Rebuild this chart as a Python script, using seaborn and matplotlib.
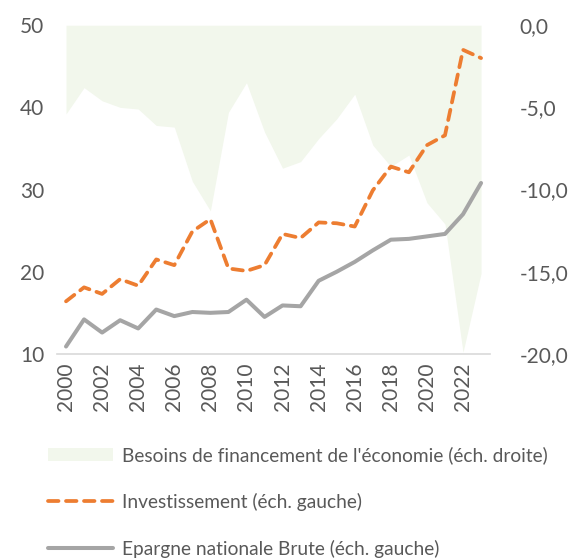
import matplotlib
matplotlib.use('Agg')
import matplotlib.pyplot as plt
import seaborn as sns
import pandas as pd

years = list(range(2000, 2024))

# besoins de financement (right axis)
besoins = [-5.4, -3.8, -4.6, -5.0, -5.1, -6.1, -6.2, -9.5, -11.3, -5.3, -3.5, -6.5,
           -8.7, -8.3, -6.9, -5.7, -4.2, -7.3, -8.6, -7.9, -10.8, -12.1, -19.9, -15.1]

# investissement (left axis)
investissement = [16.4, 18.1, 17.3, 19.1, 18.3, 21.5, 20.8, 24.9, 26.4, 20.4, 20.1, 20.8,
                  24.6, 24.1, 26.0, 25.9, 25.5, 29.9, 32.8, 32.1, 35.4, 36.6, 47.0, 46.0]

# epargne nationale brute (left axis)
epargne = [10.9, 14.2, 12.6, 14.1, 13.1, 15.4, 14.6, 15.1, 15.0, 15.1, 16.6, 14.5,
           15.9, 15.8, 18.9, 20.0, 21.2, 22.6, 23.9, 24.0, 24.3, 24.6, 27.0, 30.8]

left_ticks = [10, 20, 30, 40, 50]
right_ticks = [0, -5, -10, -15, -20]

lbl_besoins = "Besoins de financement de l'économie (éch. droite)"
lbl_invest = "Investissement (éch. gauche)"
lbl_epargne = "Epargne nationale Brute (éch. gauche)"

df = pd.DataFrame({'annee': years, 'besoins': besoins,
                   'investissement': investissement, 'epargne': epargne})

sns.set_style('white')
plt.rcParams['font.family'] = ['Lato', 'DejaVu Sans']
txt = '#595959'

fig = plt.figure(figsize=(5.71, 5.60), dpi=100)
ax = fig.add_axes([0.0998, 0.368, 0.7585, 0.587])
ax2 = ax.twinx()

# area on the right axis, drawn behind the lines
ax2.fill_between(df['annee'], 0, df['besoins'], color='#F2F7EC', lw=0, label=lbl_besoins)
ax2.set_ylim(-20, 0)
ax2.set_yticks(right_ticks)
ax2.set_yticklabels([f'{v:.1f}'.replace('.', ',') for v in right_ticks])
ax.set_zorder(ax2.get_zorder() + 1)
ax.patch.set_visible(False)

sns.lineplot(data=df, x='annee', y='investissement', ax=ax, color='#ED7D31', lw=2.7,
             label=lbl_invest)
ax.lines[-1].set_dashes((2.8, 2.0))
ax.lines[-1].set_dash_capstyle('round')
sns.lineplot(data=df, x='annee', y='epargne', ax=ax, color='#A5A5A5', lw=2.9,
             label=lbl_epargne)

ax.set_ylim(10, 50)
ax.set_yticks(left_ticks)
ax.set_xlim(1999.5, 2023.5)
ax.set_xticks(years[::2])
ax.set_xticklabels([str(y) for y in years[::2]], rotation=90)
ax.set_xlabel('')
ax.set_ylabel('')

for a in (ax, ax2):
    for s in a.spines.values():
        s.set_visible(False)
    a.tick_params(length=0, labelsize=15, colors=txt)
ax.spines['bottom'].set_visible(True)
ax.spines['bottom'].set_color('#D9D9D9')
ax.spines['bottom'].set_linewidth(1.2)
ax.tick_params(axis='y', pad=9)
ax.tick_params(axis='x', pad=6)
ax2.tick_params(axis='y', pad=21)

h1, l1 = ax2.get_legend_handles_labels()
h2, l2 = ax.get_legend_handles_labels()
ax.get_legend().remove()
fig.legend(h1 + h2, l1 + l2, loc='upper left', bbox_to_anchor=(0.084, 0.203),
           frameon=False, fontsize=13.8, labelcolor=txt, handlelength=3.4,
           handletextpad=0.47, labelspacing=1.5, borderaxespad=0, borderpad=0)

fig.savefig('out.png', dpi=100)
